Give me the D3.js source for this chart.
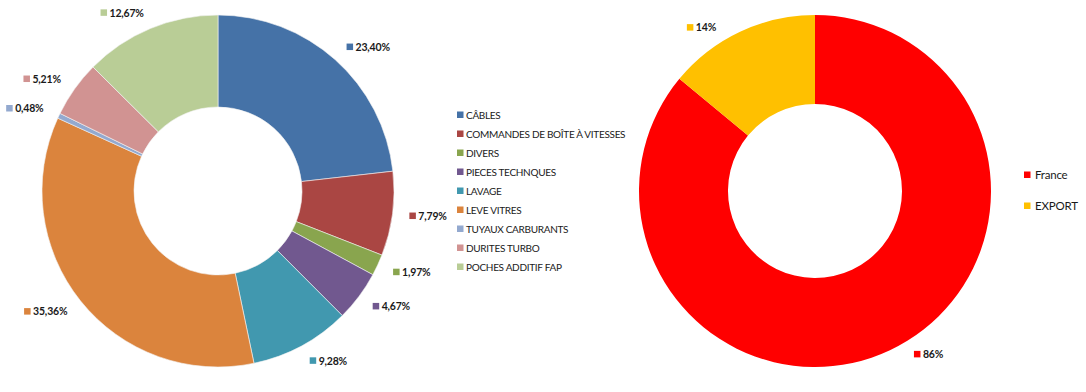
<!DOCTYPE html>
<html><head><meta charset="utf-8">
<script src="https://cdn.jsdelivr.net/npm/d3@7"></script>
<style>
html,body{margin:0;padding:0;background:#fff;}
svg{display:block;font-family:Lato,"Open Sans",sans-serif;}
</style></head>
<body><svg id="c" width="1086" height="392"></svg>
<script>
// Left donut data
const categories = ["CÂBLES","COMMANDES DE BOÎTE À VITESSES","DIVERS","PIECES TECHNQUES","LAVAGE","LEVE VITRES","TUYAUX CARBURANTS","DURITES TURBO","POCHES ADDITIF FAP"];
const values = [23.40, 7.79, 1.97, 4.67, 9.28, 35.36, 0.48, 5.21, 12.67];
const valueLabels = ["23,40%","7,79%","1,97%","4,67%","9,28%","35,36%","0,48%","5,21%","12,67%"];
const colors = ["#4572A7","#AA4643","#89A54E","#71588F","#4198AF","#DB843D","#93A9CF","#D19392","#B9CD96"];
// Right donut data
const categories2 = ["France","EXPORT"];
const values2 = [86, 14];
const valueLabels2 = ["86%","14%"];
const colors2 = ["#FF0000","#FFC000"];

const svg = d3.select("#c");

function donut(cfg){
  const g = svg.append("g").attr("transform",`translate(${cfg.cx},${cfg.cy})`);
  const pie = d3.pie().sort(null).value(d=>d.v);
  const arcs = pie(cfg.data);
  const arc = d3.arc().innerRadius(cfg.ri).outerRadius(cfg.ro);
  g.selectAll("path.s").data(arcs).join("path")
    .attr("d",arc).attr("fill",d=>d.data.c)
    .attr("stroke",cfg.stroke).attr("stroke-width",cfg.sw);
  // labels (outside end)
  const lr = cfg.ro + cfg.gap;
  arcs.forEach(d=>{
    const a = (d.startAngle+d.endAngle)/2 + cfg.rot*Math.PI/180;
    const s = Math.sin(a), c = Math.cos(a);
    const lg = g.append("g");
    const t = lg.append("text").attr("x",9).attr("y",0).attr("dy","0.35em")
      .attr("font-size",10.5).attr("letter-spacing","-0.2px").attr("font-weight","bold").attr("fill","#1a1a1a").text(d.data.l);
    lg.append("rect").attr("x",0).attr("y",-3.5).attr("width",6.5).attr("height",6.5).attr("fill",d.data.c);
    const w = 9 + t.node().getComputedTextLength();
    const cx = lr*s + Math.sign(s)*w/2, cy = -lr*c;
    lg.attr("transform",`translate(${cx - w/2},${cy})`);
  });
  // legend
  const leg = svg.append("g").attr("transform",`translate(${cfg.lx},${cfg.ly})`);
  cfg.data.forEach((d,i)=>{
    const r = leg.append("g").attr("transform",`translate(0,${i*cfg.lstep})`);
    r.append("rect").attr("x",0).attr("y",-3.5).attr("width",6.5).attr("height",6.5).attr("fill",d.c);
    r.append("text").attr("x",cfg.ltx).attr("dy","0.35em").attr("font-size",cfg.lfs).attr("letter-spacing",cfg.lls)
      .attr("fill","#1a1a1a").text(d.n);
  });
}

donut({cx:218, cy:191, ro:176, ri:84, gap:17, rot:0, stroke:"#f4f4f4", sw:0.6,
  data: categories.map((n,i)=>({n, v:values[i], l:valueLabels[i], c:colors[i]})),
  lx:457, ly:115, lstep:19, ltx:9, lfs:10, lls:"-0.3px"});
donut({cx:815, cy:191, ro:176, ri:87, gap:15, rot:-6, stroke:"none", sw:0,
  data: categories2.map((n,i)=>({n, v:values2[i], l:valueLabels2[i], c:colors2[i]})),
  lx:1024, ly:175, lstep:31, ltx:11, lfs:11.5, lls:"-0.2px"});
</script></body></html>
